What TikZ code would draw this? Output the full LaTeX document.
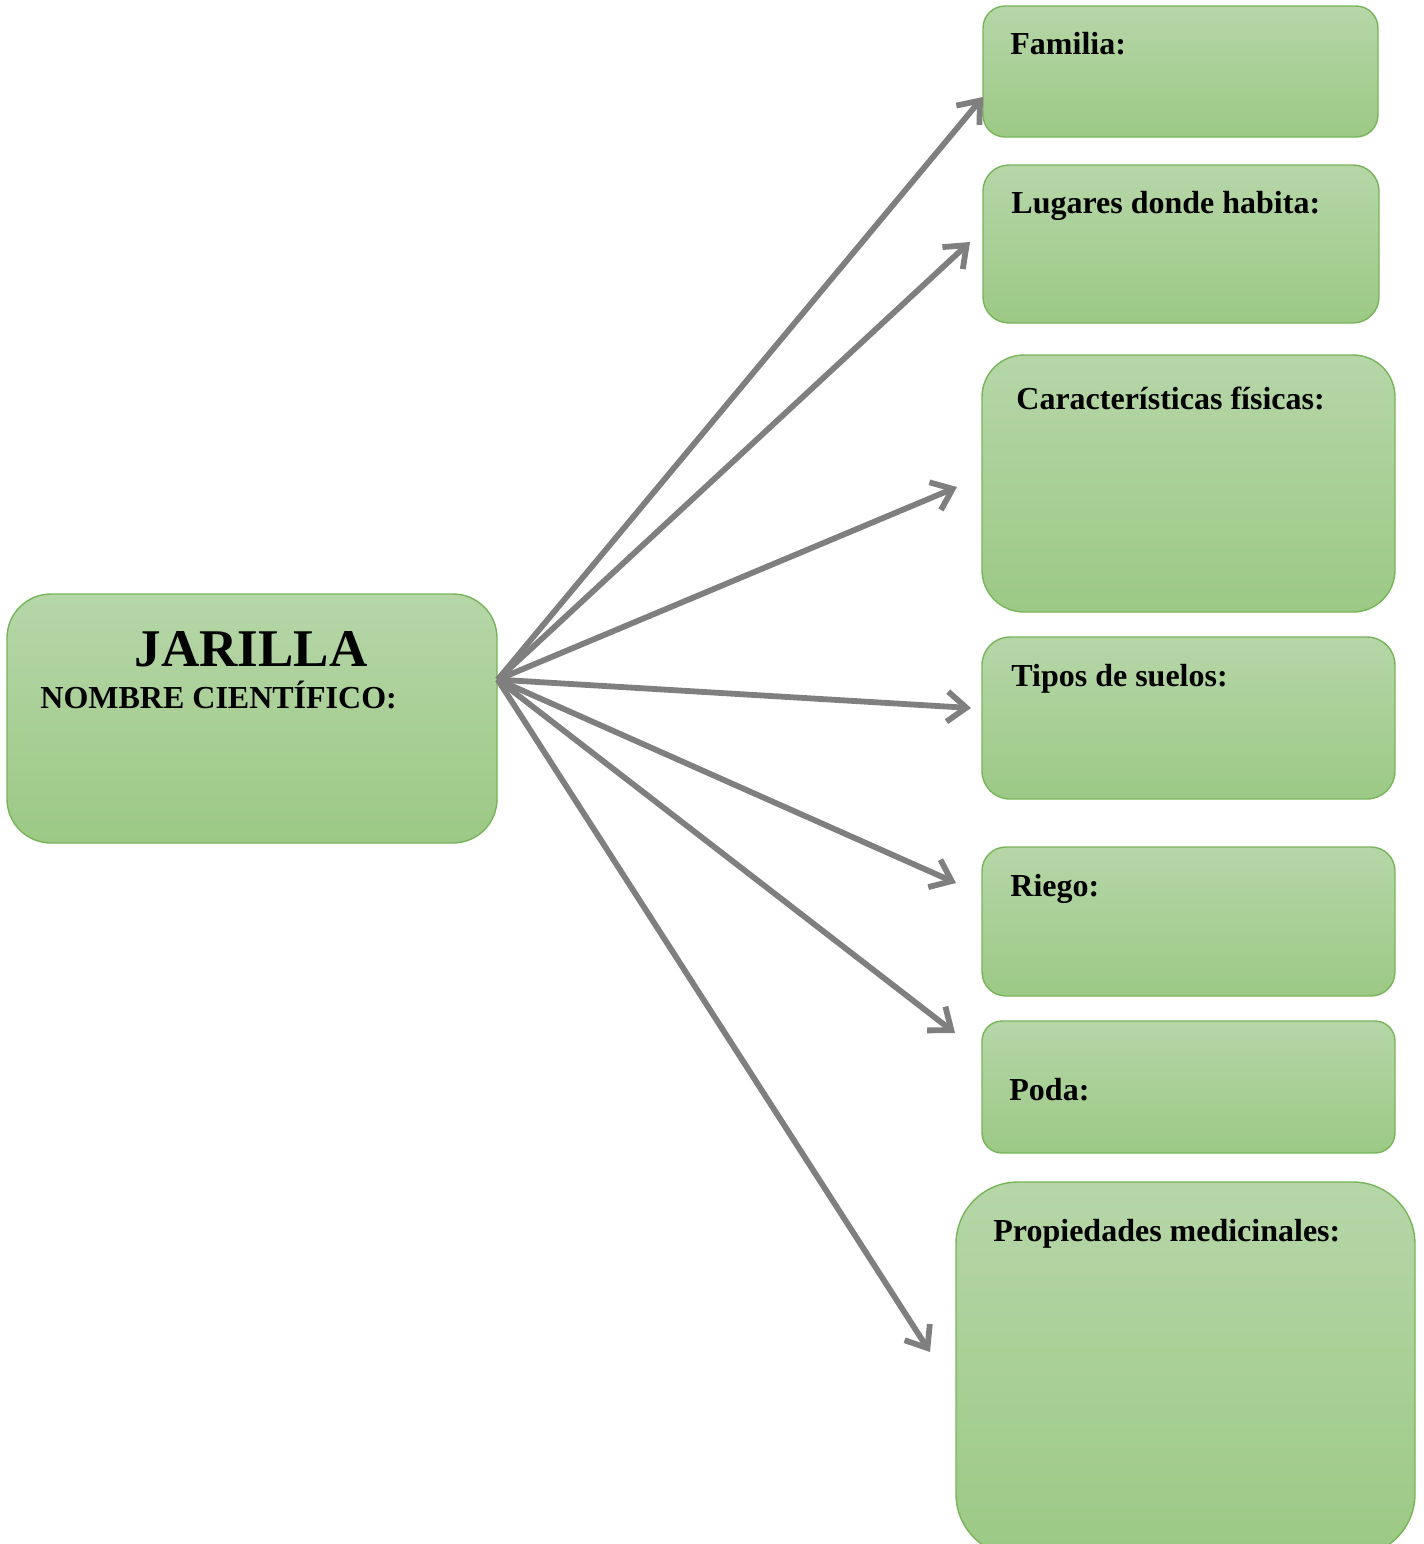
\documentclass[tikz,border=0pt]{standalone}
\usepackage{fontspec}
\setmainfont{Liberation Serif}
\usetikzlibrary{arrows.meta}
\usepackage{xcolor}
\definecolor{leafTop}{HTML}{B6D6A8}
\definecolor{leafBottom}{HTML}{9CC985}
\definecolor{leafLine}{HTML}{78B45A}
\definecolor{arrowGray}{HTML}{7F7F7F}

\begin{document}
\begin{tikzpicture}[x=0.5pt,y=-0.5pt,
  box/.style={draw=leafLine, line width=0.7pt, top color=leafTop, bottom color=leafBottom, inner sep=0pt},
  lbl/.style={anchor=base west, inner sep=0pt, font=\bfseries\fontsize{16}{19}\selectfont},
  arr/.style={draw=arrowGray, line width=2.9pt, -{Straight Barb[length=9.5pt,width=15pt]}}]
\useasboundingbox (0,0) rectangle (1424,1544);

% Main box on the left
\node[box, minimum width=245pt, minimum height=124.5pt, rounded corners=22pt] (jar) at (252,718.5) {};
\node[anchor=base, inner sep=0pt, font=\bfseries\fontsize{26.5}{30}\selectfont] (jarT) at (251,666) {JARILLA};
\node[lbl] (jarN) at (40,708) {NOMBRE CIENTÍFICO:};

% Boxes on the right
\foreach \n/\x/\y/\w/\h/\r in {fam/1180.5/71.5/197.5pt/65.5pt/11pt, lug/1181/244/198pt/79pt/13pt,
    car/1188.5/483.5/206.5pt/128.5pt/21pt, tip/1188.5/718/206.5pt/81pt/14pt,
    rie/1188.5/921.5/206.5pt/74.5pt/12pt, pod/1188.5/1087/206.5pt/66pt/10pt,
    pro/1185.5/1369/229.5pt/187pt/31pt} {
    \node[box, minimum width=\w, minimum height=\h, rounded corners=\r] (\n) at (\x,\y) {};
}

% Labels in the boxes
\node[lbl] (famT) at (1010,54) {Familia:};
\node[lbl] (lugT) at (1011,213) {Lugares donde habita:};
\node[lbl] (carT) at (1016,409) {Características físicas:};
\node[lbl] (tipT) at (1011,686) {Tipos de suelos:};
\node[lbl] (rieT) at (1010,896) {Riego:};
\node[lbl] (podT) at (1009,1100) {Poda:};
\node[lbl] (proT) at (993,1241) {Propiedades medicinales:};

% Arrow ends
\foreach \i/\x/\y in {1/983/97, 2/970/242, 3/957/487, 4/971/708, 5/956/883, 6/955/1033, 7/930/1352} {
    \coordinate (e\i) at (\x,\y);
}

% Arrows from the main box
\foreach \i in {1,...,7} {
    \draw[arr] (jar.9) -- (e\i);
}

\end{tikzpicture}
\end{document}
